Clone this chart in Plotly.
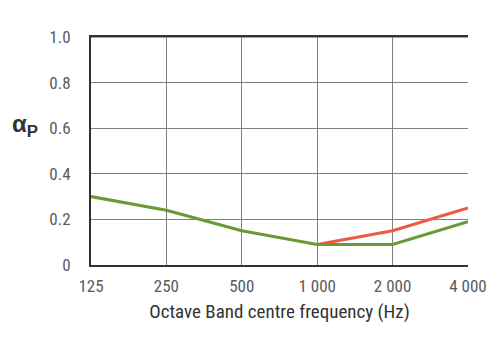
import plotly.graph_objects as go

# Octave band centre frequencies (Hz)
freqs = [125, 250, 500, 1000, 2000, 4000]
freq_labels = ["125", "250", "500", "1 000", "2 000", "4 000"]

# Practical sound absorption coefficient per octave band
alpha_green = [0.30, 0.24, 0.15, 0.09, 0.09, 0.19]
red_freqs = [1000, 2000, 4000]
alpha_red = [0.09, 0.15, 0.25]

y_ticks = [0, 0.2, 0.4, 0.6, 0.8, 1.0]
y_labels = ["0", "0.2", "0.4", "0.6", "0.8", "1.0"]

font_family = "Liberation Sans Narrow, Roboto Condensed, Arial Narrow, Liberation Sans, sans-serif"

fig = go.Figure()
fig.add_trace(go.Scatter(x=red_freqs, y=alpha_red, mode="lines",
                         line=dict(color="#ec5a45", width=3), showlegend=False))
fig.add_trace(go.Scatter(x=freqs, y=alpha_green, mode="lines",
                         line=dict(color="#6a9a36", width=3.2), showlegend=False))

fig.update_layout(
    width=500, height=341,
    margin=dict(l=91, r=32, t=37, b=76),
    paper_bgcolor="white", plot_bgcolor="white",
    font=dict(family=font_family, color="#5a5a5a", size=17),
    xaxis=dict(
        type="log", range=[2.0969, 3.6021],
        tickvals=freqs, ticktext=freq_labels,
        showgrid=True, gridcolor="#808080", gridwidth=1,
        showline=True, linecolor="#333333", linewidth=2, mirror=True,
        ticks="", ticklabelstandoff=5,
        title=dict(text="Octave Band centre frequency (Hz)",
                   font=dict(size=19, color="#333333"), standoff=9),
        zeroline=False,
    ),
    yaxis=dict(
        range=[0, 1.0],
        tickvals=y_ticks, ticktext=y_labels,
        showgrid=True, gridcolor="#808080", gridwidth=1,
        showline=True, linecolor="#333333", linewidth=2,
        ticks="", ticklabelstandoff=15,
        zeroline=False,
    ),
)

# Top border drawn as a light grid-coloured line
fig.add_shape(type="line", xref="paper", yref="y", x0=0, x1=1, y0=1.0, y1=1.0,
              line=dict(color="#808080", width=1.5))

# Y-axis symbol α with subscript P
fig.add_annotation(
    text="<b>α</b><sub><b>P</b></sub>",
    xref="paper", yref="paper", x=-0.135, y=0.61,
    xanchor="right", yanchor="middle", showarrow=False,
    font=dict(family="Liberation Sans, Arial, sans-serif", size=24, color="#333333"),
)

fig.write_html("out.html")
